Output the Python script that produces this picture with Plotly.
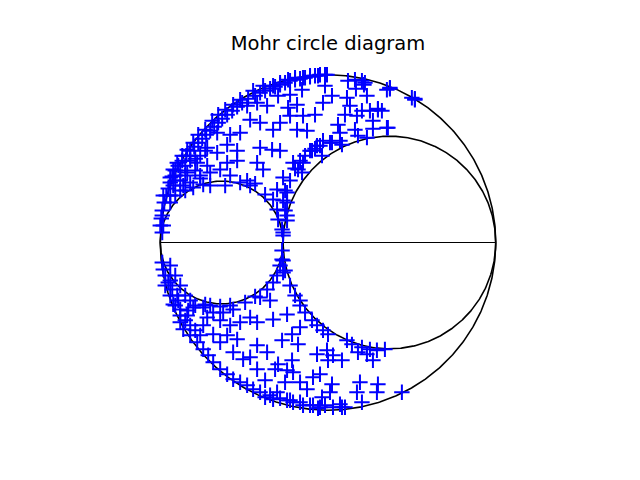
import numpy as np
import plotly.graph_objects as go

# principal stresses (arbitrary units)
principal = [336, 123, 0]

# normal stress / shear stress of sampled stress states
sigma_n = [
    105,110,115,120,125,130,135,140,145,150,155,160,165,95,100,88,82,77,72,67,62,58,54,50,46,42,38,34,30,26,22,18,15,12,10,8,6,4,2,1,3,
    188,202,204,230,252,255,196,218,213,202,
    167,158,150,143,135,128,120,113,195,205,227,165,142,130,118,172,187,207,163,190,137,128,218,210,155,143,185,197,130,120,113,213,178,147,137,195,227,180,207,198,172,163,157,182,152,145,162,143,133,142,123,120,112,138,
    103,93,80,73,65,58,52,45,38,33,27,22,17,13,10,87,97,107,100,90,80,70,57,67,77,57,47,77,67,60,70,47,37,30,100,97,103,87,27,40,
    3,10,2,0,2,2,3,5,8,12,17,13,23,33,43,90,105,113,117,118,122,123,122,120,117,113,107,100,123,127,117,127,127,
    13,20,23,30,37,43,48,53,60,67,73,80,87,93,100,105,33,43,53,63,73,47,60,43,70,80,90,97,53,67,77,60,73,83,97,90,97,107,105,27,20,
    140,145,152,157,163,168,187,192,202,210,217,225,198,207,213,127,113,140,132,122,138,157,167,173,182,168,132,118,115,127,133,160,153,125,140,147,172,170,200,197,218,217,117,127,133,143,153,160,173,182,202,162,113,
    242,230,255,222,228,
    123,125,127,123,130,135,140,150,155,160,170,180,125,122,123,125,130,135,140,
    110,120,130,140,150,158,165,185,180,
    15,25,35,20,10,50,65,80,95,
    10,15,20,25,30,35,45,50,60,70,85,95,110,
    15,20,25,30,35,40,45,20,30,40,50,25,15,
    5,10,15,20,25,30,35,40,18,28,10,
]
tau = [
    152,154,156,158,160,162,163,164,165,166,167,168,168,147,150,144,140,136,132,128,124,120,116,112,108,104,100,96,92,87,82,77,72,66,60,54,47,40,32,24,17,
    162,162,158,154,145,144,154,134,114,132,
    168,167,167,165,165,163,160,157,163,160,153,157,153,148,147,147,145,147,140,137,138,135,133,132,128,127,128,127,127,120,113,122,118,112,113,113,115,110,105,107,100,102,97,98,92,87,87,80,80,70,65,92,93,73,
    157,152,143,138,133,128,122,113,108,100,93,87,80,73,65,137,140,137,120,123,110,108,110,98,92,90,95,82,80,73,67,77,80,87,95,80,73,62,70,67,
    47,40,27,17,10,-20,-27,-33,-40,-47,-53,57,57,55,58,57,48,43,33,23,13,7,-17,-23,-33,-40,-47,-55,-30,50,53,40,27,
    -62,-80,-87,-93,-100,-107,-113,-120,-127,-132,-137,-140,-143,-147,-150,-155,-65,-65,-70,-70,-67,-75,-78,-83,-83,-80,-75,-80,-92,-93,-97,-100,-110,-117,-103,-115,-127,-110,-138,-73,-67,
    -63,-70,-78,-83,-88,-92,-98,-102,-105,-107,-108,-107,-110,-112,-118,-72,-77,-85,-92,-98,-102,-112,-108,-113,-118,-118,-118,-122,-127,-128,-130,-132,-135,-140,-140,-147,-142,-150,-140,-150,-142,-150,-150,-158,-160,-163,-163,-165,-165,-165,-160,-155,-157,
    -150,155,143,132,115,
    42,32,22,10,62,74,82,92,94,97,100,102,52,-8,-18,-28,-43,-53,-58,
    -153,-156,-158,-160,-163,-166,-163,-165,-162,
    62,67,72,52,47,57,57,60,59,
    -23,-33,-43,-53,-58,-63,-62,-63,-64,-63,-60,-54,-58,
    67,72,77,82,84,87,92,62,60,64,70,52,47,
    -43,-53,-63,-73,-78,-83,-88,-93,-58,-68,-38,
]

fig = go.Figure()

s1, s2, s3 = principal
theta = np.linspace(0, 2 * np.pi, 721)
for a, b in [(s3, s1), (s3, s2), (s2, s1)]:
    c = (a + b) / 2
    r = (b - a) / 2
    fig.add_trace(go.Scatter(x=c + r * np.cos(theta), y=r * np.sin(theta), mode="lines",
                             line=dict(color="black", width=1.6), hoverinfo="skip", showlegend=False))
fig.add_trace(go.Scatter(x=[s3, s1], y=[0, 0], mode="lines",
                         line=dict(color="black", width=1), showlegend=False))

fig.add_trace(go.Scatter(x=sigma_n, y=tau, mode="markers",
                         marker=dict(symbol="cross-thin", size=11, color="#0000ff",
                                     line=dict(color="#0000ff", width=2)),
                         showlegend=False))

cx = (s1 + s3) / 2
half_h = (s1 - s3) / 2 * 1.1
half_w = half_h * 496 / 369
fig.update_layout(
    width=640, height=480,
    margin=dict(l=80, r=64, t=58, b=53),
    paper_bgcolor="white", plot_bgcolor="white",
    title=dict(text="Mohr circle diagram", x=0.5, xref="paper", xanchor="center",
               y=1 - 43 / 480, yref="container", yanchor="middle",
               font=dict(family="DejaVu Sans", size=19.5, color="black")),
    xaxis=dict(range=[cx - half_w, cx + half_w], visible=False),
    yaxis=dict(range=[-half_h, half_h], visible=False),
)
fig.write_html("out.html", config={"displayModeBar": False},
               post_script="document.body.style.margin='0';")
